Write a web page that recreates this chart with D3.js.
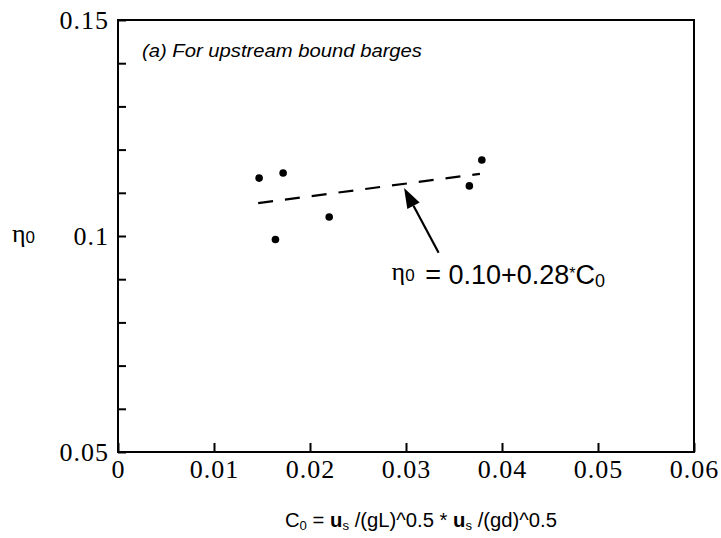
<!DOCTYPE html>
<html>
  <head>
    <title>Upstream bound barges</title>
    <script src="https://d3js.org/d3.v7.min.js"></script>
    <style>
      body { margin: 0; background: white; }
      .tick text { font-family: "Liberation Serif", serif; font-size: 26px; fill: black; letter-spacing: 1px; }
      .tick line { stroke: black; stroke-width: 2px; }
    </style>
  </head>
  <body>
    <script>
      let width = 721, height = 538;
      let margin = { top: 20, right: 27, bottom: 86, left: 118 };

      // data
      let c0Values = [0.0147, 0.0172, 0.0164, 0.0220, 0.0366, 0.0379];
      let etaValues = [0.1134, 0.1146, 0.0992, 0.1044, 0.1116, 0.1176];
      let fitX = [0.0146, 0.0377];
      let fitY = [0.1076, 0.1144];
      let xTicks = [0, 0.01, 0.02, 0.03, 0.04, 0.05, 0.06];
      let yTicks = [0.05, 0.06, 0.07, 0.08, 0.09, 0.1, 0.11, 0.12, 0.13, 0.14, 0.15];
      let yTickLabels = { 0.05: "0.05", 0.1: "0.1", 0.15: "0.15" };

      let svg = d3.select("body").append("svg")
                  .attr("width", width)
                  .attr("height", height)
                  .style("background", "white");

      let x = d3.scaleLinear().domain([0, 0.06]).range([margin.left, width - margin.right]);
      let y = d3.scaleLinear().domain([0.05, 0.15]).range([height - margin.bottom, margin.top]);

      svg.append("g")
         .attr("transform", `translate(0, ${height - margin.bottom})`)
         .call(d3.axisBottom(x).tickValues(xTicks).tickSizeInner(-9).tickSizeOuter(0).tickPadding(8)
                 .tickFormat(d => d === 0 ? "0" : d3.format(".2f")(d)))
         .call(g => g.select(".domain").remove());

      svg.append("g")
         .attr("transform", `translate(${margin.left}, 0)`)
         .call(d3.axisLeft(y).tickValues(yTicks).tickSizeInner(-8).tickSizeOuter(0).tickPadding(9)
                 .tickFormat(d => yTickLabels[+d.toFixed(2)] || ""))
         .call(g => g.select(".domain").remove());

      // frame
      svg.append("rect")
         .attr("x", x(0)).attr("y", y(0.15))
         .attr("width", x(0.06) - x(0)).attr("height", y(0.05) - y(0.15))
         .attr("fill", "none").attr("stroke", "black").attr("stroke-width", 2);

      // fit line
      svg.append("path")
         .datum(fitX.map((d, i) => [d, fitY[i]]))
         .attr("d", d3.line().x(d => x(d[0])).y(d => y(d[1])))
         .attr("fill", "none").attr("stroke", "black").attr("stroke-width", 2.2)
         .attr("stroke-dasharray", "15,12");

      // points
      svg.selectAll("circle.pt").data(c0Values).enter().append("circle")
         .attr("class", "pt")
         .attr("cx", d => x(d))
         .attr("cy", (d, i) => y(etaValues[i]))
         .attr("r", 3.8)
         .attr("fill", "black");

      // arrow
      let tail = [x(0.0334), y(0.0961)], tip = [x(0.0298), y(0.1111)];
      let ang = Math.atan2(tip[1] - tail[1], tip[0] - tail[0]);
      let headLen = 20, headW = 7;
      let bx = tip[0] - headLen * Math.cos(ang), by = tip[1] - headLen * Math.sin(ang);
      svg.append("line")
         .attr("x1", tail[0]).attr("y1", tail[1]).attr("x2", bx).attr("y2", by)
         .attr("stroke", "black").attr("stroke-width", 2.2);
      svg.append("path")
         .attr("d", `M${tip[0]},${tip[1]} L${bx + headW * Math.sin(ang)},${by - headW * Math.cos(ang)} L${bx - headW * Math.sin(ang)},${by + headW * Math.cos(ang)} Z`)
         .attr("fill", "black");

      // equation
      let eta = svg.append("text").attr("x", x(0.0285)).attr("y", y(0.0898))
                   .style("font-family", "Liberation Serif").style("font-size", "26px");
      eta.append("tspan").text("η");
      eta.append("tspan").attr("dy", 1).style("font-size", "17px").style("font-family", "Liberation Sans").text("0");

      let eq = svg.append("text").attr("x", x(0.0320)).attr("y", y(0.0890))
                  .style("font-family", "Liberation Sans").style("font-size", "27px");
      eq.append("tspan").text("= 0.10+0.28");
      eq.append("tspan").attr("dy", -5).style("font-size", "16px").text("*");
      eq.append("tspan").attr("dy", 5).text("C");
      eq.append("tspan").attr("dy", 3).style("font-size", "18px").text("0");

      // panel title
      svg.append("text")
         .attr("x", 142).attr("y", 57)
         .attr("textLength", 280).attr("lengthAdjust", "spacingAndGlyphs")
         .style("font-family", "Liberation Sans").style("font-style", "italic").style("font-size", "18px")
         .text("(a) For upstream bound barges");

      // y label
      let yl = svg.append("text").attr("x", 12).attr("y", 242)
                  .style("font-family", "Liberation Serif").style("font-size", "26px");
      yl.append("tspan").text("η");
      yl.append("tspan").attr("dy", 1).style("font-size", "17px").style("font-family", "Liberation Sans").text("0");

      // x label
      let xl = svg.append("text").attr("x", 285).attr("y", 527)
                  .attr("textLength", 272).attr("lengthAdjust", "spacingAndGlyphs")
                  .style("font-family", "Liberation Sans").style("font-size", "20px");
      xl.append("tspan").text("C");
      xl.append("tspan").attr("dy", 3).style("font-size", "13px").text("0");
      xl.append("tspan").attr("dy", -3).text(" = ");
      xl.append("tspan").style("font-weight", "bold").text("u");
      xl.append("tspan").attr("dy", 3).style("font-size", "13px").text("s");
      xl.append("tspan").attr("dy", -3).text(" /(gL)^0.5 * ");
      xl.append("tspan").style("font-weight", "bold").text("u");
      xl.append("tspan").attr("dy", 3).style("font-size", "13px").text("s");
      xl.append("tspan").attr("dy", -3).text(" /(gd)^0.5");
    </script>
  </body>
</html>
